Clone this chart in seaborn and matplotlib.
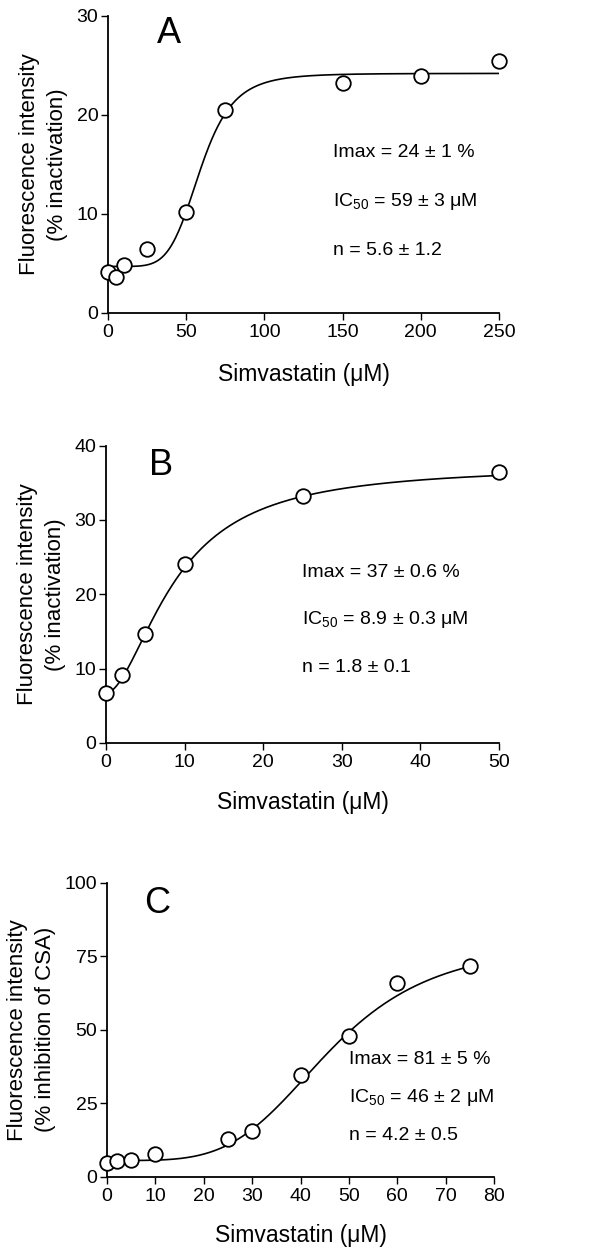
import numpy as np
import pandas as pd
import seaborn as sns
import matplotlib.pyplot as plt

# panel A
conc_a = [0, 5, 10, 25, 50, 75, 150, 200, 250]
resp_a = [4.1, 3.6, 4.8, 6.45, 10.2, 20.5, 23.2, 23.9, 25.5]
fit_a = dict(bottom=4.7, top=24.2, ic50=59, n=5.6)
text_a = ["Imax = 24 ± 1 %", r"IC$_\mathrm{50}$ = 59 ± 3 μM", "n = 5.6 ± 1.2"]

# panel B
conc_b = [0, 2, 5, 10, 25, 50]
resp_b = [6.7, 9.1, 14.6, 24.1, 33.2, 36.4]
fit_b = dict(bottom=6.7, top=37.3, ic50=8.9, n=1.8)
text_b = ["Imax = 37 ± 0.6 %", r"IC$_\mathrm{50}$ = 8.9 ± 0.3 μM", "n = 1.8 ± 0.1"]

# panel C
conc_c = [0, 2, 5, 10, 25, 30, 40, 50, 60, 75]
resp_c = [4.5, 5.3, 5.7, 7.6, 12.8, 15.5, 34.6, 48.0, 66.0, 71.7]
fit_c = dict(bottom=5.5, top=80, ic50=46, n=4.2)
text_c = ["Imax = 81 ± 5 %", r"IC$_\mathrm{50}$ = 46 ± 2 μM", "n = 4.2 ± 0.5"]

sns.set_style("ticks")
plt.rcParams['font.family'] = ['Liberation Sans', 'DejaVu Sans']
plt.rcParams['mathtext.fontset'] = 'custom'
plt.rcParams['mathtext.rm'] = 'Liberation Sans'
plt.rcParams['mathtext.it'] = 'Liberation Sans:italic'
for k in ['text.color', 'axes.labelcolor', 'xtick.color', 'ytick.color', 'axes.edgecolor']:
    plt.rcParams[k] = 'black'


def hill(x, bottom, top, ic50, n):
    xn = np.power(x, n)
    return bottom + (top - bottom) * xn / (ic50 ** n + xn)


def panel(ax, conc, resp, fit, texts, letter, xmax, xstep, ymax, ystep,
          ylabel2, letter_pos, text_pos, text_gap, xpad):
    xs = np.linspace(0, max(conc), 400)
    curve = pd.DataFrame({"x": xs, "y": hill(xs, **fit)})
    sns.lineplot(data=curve, x="x", y="y", ax=ax, color="black", lw=1.2)
    pts = pd.DataFrame({"x": conc, "y": resp})
    sns.scatterplot(data=pts, x="x", y="y", ax=ax, s=110, marker="o",
                    facecolor="white", edgecolor="black", linewidth=1.3,
                    clip_on=False, zorder=5)
    ax.set_xlim(0, xmax)
    ax.set_ylim(0, ymax)
    ax.set_xticks(np.arange(0, xmax + 1, xstep))
    ax.set_yticks(np.arange(0, ymax + 1, ystep))
    ax.tick_params(labelsize=14, width=1.0, length=5, color="black", pad=2)
    ax.tick_params(axis="x", pad=3)
    for s in ["left", "bottom"]:
        ax.spines[s].set_linewidth(1.3)
    sns.despine(ax=ax)
    ax.set_xlabel("Simvastatin (μM)", fontsize=16.5, labelpad=xpad)
    ax.set_ylabel("Fluorescence intensity\n" + ylabel2, fontsize=16,
                  linespacing=1.45, labelpad=6)
    ax.text(letter_pos[0], letter_pos[1], letter, transform=ax.transAxes,
            fontsize=26, ha="center", va="center")
    for i, t in enumerate(texts):
        ax.text(text_pos[0], text_pos[1] - i * text_gap, t, transform=ax.transAxes,
                fontsize=14, ha="left", va="center")


fig = plt.figure(figsize=(6.05, 12.47), dpi=100)
ax_a = fig.add_axes([0.1785, 0.749, 0.6463, 0.2382])
ax_b = fig.add_axes([0.1752, 0.4042, 0.6496, 0.2384])
ax_c = fig.add_axes([0.1769, 0.0564, 0.6397, 0.2357])

panel(ax_a, conc_a, resp_a, fit_a, text_a, "A", 250, 50, 30, 10,
      "(% inactivation)", (0.155, 0.94), (0.575, 0.54), 0.165, 16)
panel(ax_b, conc_b, resp_b, fit_b, text_b, "B", 50, 10, 40, 10,
      "(% inactivation)", (0.14, 0.935), (0.5, 0.575), 0.16, 14)
panel(ax_c, conc_c, resp_c, fit_c, text_c, "C", 80, 10, 100, 25,
      "(% inhibition of CSA)", (0.13, 0.93), (0.625, 0.4), 0.13, 14)

fig.savefig("out.png", dpi=100)
